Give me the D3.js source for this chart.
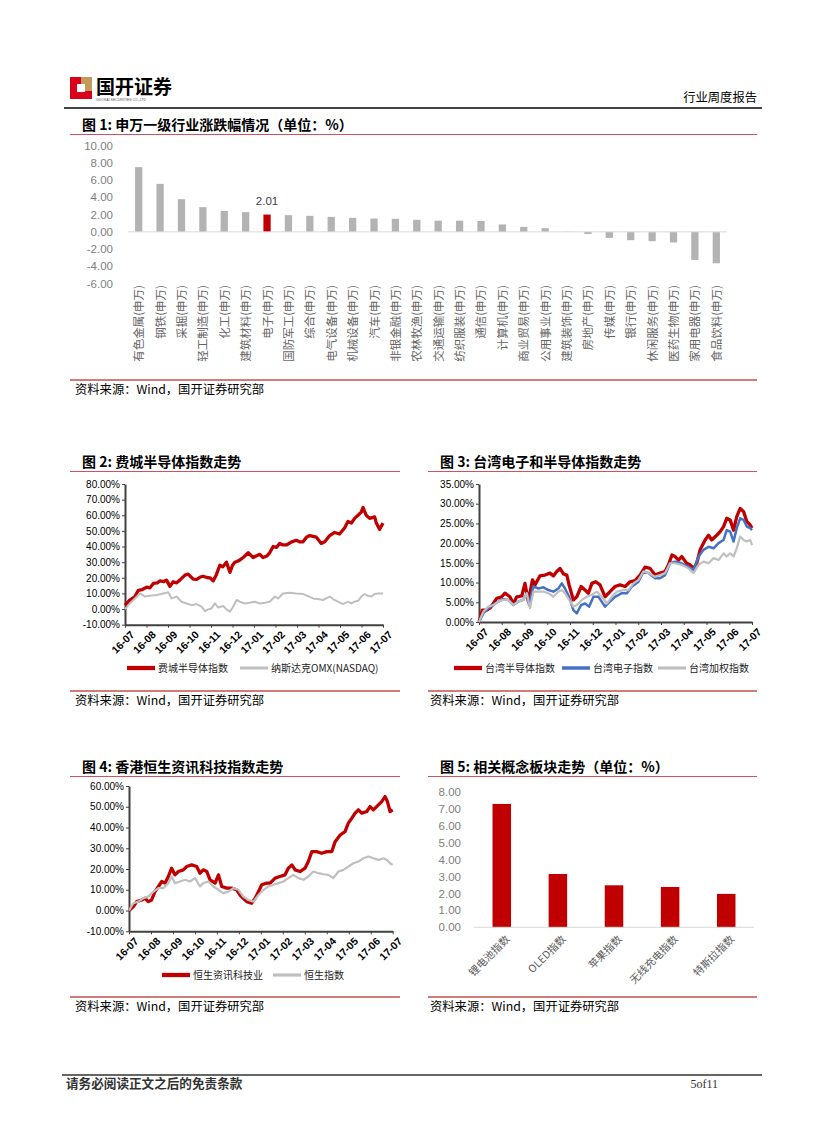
<!DOCTYPE html>
<html><head><meta charset="utf-8">
<script src="https://cdn.jsdelivr.net/npm/d3@7"></script>
<style>body{margin:0;background:#fff}svg{display:block}</style>
</head><body>
<svg id="page" width="827" height="1122"></svg>
<script>
// ---------------- DATA ----------------
const industryNames = ["有色金属","钢铁","采掘","轻工制造","化工","建筑材料","电子","国防军工","综合","电气设备","机械设备","汽车","非银金融","农林牧渔","交通运输","纺织服装","通信","计算机","商业贸易","公用事业","建筑装饰","房地产","传媒","银行","休闲服务","医药生物","家用电器","食品饮料"];
const industryChange = [7.52,5.58,3.80,2.87,2.44,2.29,2.01,1.94,1.86,1.74,1.63,1.55,1.51,1.40,1.30,1.30,1.27,0.86,0.58,0.43,0.02,-0.25,-0.70,-0.97,-1.08,-1.23,-3.26,-3.65];
const industryTicks = [10,8,6,4,2,0,-2,-4,-6];
const highlightIndustry = "电子";

const monthLabels = ["16-07","16-08","16-09","16-10","16-11","16-12","17-01","17-02","17-03","17-04","17-05","17-06","17-07"];

// Chart 2 (t = months since 2016-07, value %)
const soxNames = ["费城半导体指数","纳斯达克OMX(NASDAQ)"];
const soxIndex = [[0,2.5],[0.23,5.8],[0.46,8],[0.62,12],[0.8,12.5],[1.01,14],[1.15,13.5],[1.32,16.4],[1.5,16.8],[1.63,18],[1.8,17.6],[1.93,18.5],[2.09,14.5],[2.24,17.5],[2.4,16.8],[2.55,18.5],[2.79,21.7],[2.94,22.4],[3.17,19.2],[3.33,19],[3.5,20.5],[3.64,21],[3.8,20.2],[3.95,20],[4.1,18],[4.25,22],[4.41,28],[4.55,27],[4.72,30],[4.88,23.5],[5.0,28],[5.11,30],[5.3,31],[5.5,33],[5.73,36],[5.96,33],[6.1,34],[6.27,35],[6.42,33],[6.6,34],[6.73,36],[6.89,40],[7.05,39.5],[7.2,42],[7.35,41],[7.51,41],[7.75,43],[7.97,44],[8.12,43],[8.28,43],[8.44,46],[8.59,47],[8.75,46.5],[8.9,46],[9.13,42],[9.29,43],[9.52,47],[9.75,49],[9.98,48],[10.22,52],[10.37,56],[10.53,55],[10.68,58],[10.84,60],[10.99,62],[11.07,65],[11.22,60],[11.38,58],[11.61,59],[11.69,55],[11.84,51],[11.92,53],[12,55]];
const nasdaqIndex = [[0,0],[0.23,3.6],[0.46,6.8],[0.7,10],[0.93,8],[1.16,8.5],[1.47,9],[1.78,10],[2.01,10.7],[2.17,6.8],[2.4,8],[2.63,4.7],[2.86,3.6],[3.1,2.5],[3.33,3.2],[3.56,1.5],[3.72,-1.3],[3.87,-0.2],[4.02,0.4],[4.18,3.6],[4.33,1],[4.57,2],[4.72,-0.2],[4.88,-1.7],[5.03,1.5],[5.19,5.8],[5.34,4.7],[5.57,3.6],[5.8,4],[6.04,4.7],[6.27,3.6],[6.5,4],[6.73,4.7],[6.97,8],[7.12,6.8],[7.35,10],[7.66,10.5],[7.97,10],[8.28,9.6],[8.51,8.3],[8.75,6.8],[8.98,6.4],[9.21,5.8],[9.52,8],[9.67,6.4],[9.91,4.7],[10.14,3.2],[10.37,4.7],[10.53,3.6],[10.68,4.7],[10.84,5.3],[10.99,8],[11.15,9.6],[11.3,8.5],[11.46,8],[11.61,9.6],[11.76,10],[12,10]];

// Chart 3
const twNames = ["台湾半导体指数","台湾电子指数","台湾加权指数"];
const twSemi = [[0,0],[0.15,3],[0.34,3],[0.48,3.5],[0.63,4.7],[0.78,6],[1.0,6.4],[1.14,7.3],[1.36,6.4],[1.51,4.6],[1.66,6.4],[1.88,6.6],[2.02,9.8],[2.17,5.2],[2.35,10.7],[2.46,9.4],[2.68,11.7],[2.9,11.9],[3.12,12.4],[3.27,11.7],[3.42,12.8],[3.56,13.6],[3.71,12.2],[3.86,11.9],[3.96,9.4],[4.15,5.6],[4.3,6.4],[4.49,9],[4.66,8.1],[4.81,7.3],[4.96,9.8],[5.13,10.2],[5.32,9.4],[5.54,6.4],[5.76,7.7],[5.98,9],[6.2,9.4],[6.42,9],[6.64,10.2],[6.86,10.5],[7.08,11.9],[7.3,13.9],[7.52,13.6],[7.74,11.9],[7.96,12.4],[8.18,12.8],[8.33,14.5],[8.48,17],[8.62,16.6],[8.77,15.7],[8.91,16.6],[9.13,14.9],[9.28,14.5],[9.43,13.6],[9.57,14.9],[9.72,18.3],[9.94,20.8],[10.09,22],[10.23,20.8],[10.45,22],[10.6,22.9],[10.75,24.2],[10.89,26.3],[11.04,25.9],[11.19,23.3],[11.33,26.7],[11.48,28.8],[11.63,28],[11.77,25.5],[11.92,24.6],[12,23.8]];
const twElec = [[0,0],[0.19,2.2],[0.41,3.5],[0.63,4.3],[0.85,5.2],[1.07,5.8],[1.29,5.6],[1.51,4.3],[1.73,5.2],[1.95,5.6],[2.1,7.3],[2.2,4.3],[2.39,9],[2.61,8.5],[2.83,8.8],[3.05,8.1],[3.27,7.7],[3.49,8.5],[3.64,9.8],[3.78,8.5],[3.96,6.4],[4.15,3],[4.3,2.2],[4.49,4.3],[4.66,4.7],[4.84,3.9],[5.03,6.4],[5.25,6.4],[5.54,3.9],[5.76,5.2],[5.98,6.4],[6.28,7.3],[6.5,7.3],[6.72,9],[7.01,10.2],[7.23,12.8],[7.45,12.4],[7.74,11.1],[7.96,11.1],[8.18,11.9],[8.4,14.9],[8.62,15.3],[8.91,14.9],[9.21,14],[9.43,13.2],[9.65,16.6],[9.87,18.3],[10.09,19.1],[10.31,18.7],[10.53,20],[10.75,20.8],[10.89,23.3],[11.04,22.9],[11.19,20.4],[11.33,23.8],[11.48,26.3],[11.63,25.9],[11.77,24.2],[11.92,23.8],[12,23.3]];
const twTaiex = [[0,0],[0.19,2.6],[0.41,3.9],[0.63,4.3],[0.85,5.2],[1.07,5.6],[1.29,5.6],[1.51,4.3],[1.73,5.2],[1.95,5.6],[2.1,7.3],[2.24,3.5],[2.39,7.7],[2.61,7.7],[2.83,7.7],[3.05,7.3],[3.27,6.4],[3.49,7.7],[3.64,8.1],[3.78,7.3],[3.96,5.6],[4.15,3.9],[4.3,4.3],[4.52,5.6],[4.74,6.4],[4.96,6.9],[5.18,7.7],[5.4,6.4],[5.62,4.7],[5.84,6.4],[6.06,7.7],[6.35,8.1],[6.57,8.1],[6.79,9.8],[7.01,10.7],[7.23,12.8],[7.45,12.4],[7.74,11.5],[7.96,11.9],[8.18,12.4],[8.4,14.9],[8.62,14.9],[8.91,14.5],[9.21,13.6],[9.43,12.4],[9.65,14.5],[9.87,15.3],[10.09,14.9],[10.31,16.2],[10.53,15.7],[10.75,17.4],[10.89,16.6],[11.04,17.4],[11.19,16.6],[11.33,18.7],[11.48,21.7],[11.63,20.8],[11.77,20.4],[11.92,20.8],[12,19.5]];

// Chart 4
const hkNames = ["恒生资讯科技业","恒生指数"];
const hkTech = [[0,0],[0.2,1.9],[0.35,4.3],[0.58,5.1],[0.73,5.9],[0.88,4.3],[1.03,5.1],[1.18,9.1],[1.34,11.6],[1.49,14],[1.64,13.2],[1.79,16.4],[1.94,20.4],[2.09,17.2],[2.25,18.8],[2.47,19.6],[2.63,21.2],[2.85,22],[3.08,21.2],[3.23,18],[3.38,19.6],[3.54,18.8],[3.69,14.8],[3.92,13.2],[4.07,17.2],[4.22,11.6],[4.45,10.8],[4.67,10.8],[4.9,10],[5.05,7.5],[5.2,5.9],[5.36,4.3],[5.58,3.5],[5.74,5.9],[5.89,9.1],[6.04,12.4],[6.27,13.2],[6.42,13.2],[6.65,15.6],[6.87,16.4],[7.1,17.2],[7.25,20.4],[7.41,22],[7.56,19.6],[7.78,18.8],[8.01,20.4],[8.16,23.6],[8.32,28.4],[8.54,28.4],[8.77,27.6],[9.0,28.4],[9.23,28.4],[9.38,33.2],[9.61,36.4],[9.83,38],[9.98,42.1],[10.14,44.5],[10.29,46.9],[10.44,48.5],[10.59,46.9],[10.82,47.7],[10.97,50.1],[11.12,48.5],[11.35,50.9],[11.5,52.5],[11.65,54.9],[11.76,52.5],[11.88,47.7],[12,48.5]];
const hsIndex = [[0,0],[0.2,3.5],[0.42,4.3],[0.65,5.9],[0.88,6.7],[1.11,9.1],[1.34,10.8],[1.56,10.8],[1.79,13.2],[1.94,16.4],[2.09,13.2],[2.32,14],[2.55,14.8],[2.78,14],[3.0,15.6],[3.23,11.6],[3.38,13.2],[3.61,14],[3.84,11.6],[4.07,10],[4.29,8.3],[4.52,9.1],[4.75,10.8],[4.98,10],[5.2,6.7],[5.43,5.1],[5.66,4.3],[5.89,7.5],[6.12,10],[6.34,11.6],[6.57,12.4],[6.8,13.2],[7.03,14],[7.25,15.6],[7.48,17.2],[7.71,15.6],[7.94,14.8],[8.16,16.4],[8.39,18.8],[8.62,18],[8.85,17.5],[9.07,17.2],[9.3,15.6],[9.53,18.8],[9.76,19.6],[9.98,21.2],[10.21,22.8],[10.44,23.6],[10.67,25.2],[10.9,26],[11.12,25.2],[11.35,24.4],[11.58,25.2],[11.73,24.4],[11.88,22.8],[12,22]];

// Chart 5
const conceptNames = ["锂电池指数","OLED指数","苹果指数","无线充电指数","特斯拉指数"];
const conceptChange = [7.31,3.16,2.49,2.39,1.98];
const conceptTicks = [0,1,2,3,4,5,6,7,8];

// ---------------- DRAW ----------------
const svg = d3.select("#page");
const CJK = "'Noto Sans CJK SC', 'Noto Sans', sans-serif";
const ARIAL = "'Liberation Sans', Arial, sans-serif";
const RED = "#C00000", GRAY = "#BFBFBF", BLUE = "#4472C4", RULE = "#c0504d";

function hline(x1, x2, y, color, w) {
  svg.append("line").attr("x1", x1).attr("x2", x2).attr("y1", y).attr("y2", y)
    .attr("stroke", color).attr("stroke-width", w);
}
function text(x, y, str, opts = {}) {
  return svg.append("text").attr("x", x).attr("y", y).text(str)
    .attr("font-family", opts.family || CJK).attr("font-size", opts.size || 12)
    .attr("font-weight", opts.weight || 400).attr("fill", opts.fill || "#000")
    .attr("text-anchor", opts.anchor || "start");
}

// header
svg.append("rect").attr("x", 70).attr("y", 77).attr("width", 22).attr("height", 22).attr("fill", "#d9001b");
svg.append("rect").attr("x", 81).attr("y", 77).attr("width", 11).attr("height", 14).attr("fill", "#c49a5a");
svg.append("rect").attr("x", 77).attr("y", 84).attr("width", 8).attr("height", 8).attr("fill", "#fff");
text(96, 94, "国开证券", { size: 19, weight: 700 });
text(96, 101, "GUOKAI SECURITIES CO.,LTD", { size: 3.5, family: ARIAL, fill: "#555" });
text(757, 102, "行业周度报告", { size: 12.3, anchor: "end" });
hline(64, 762, 108, "#444", 2);

// titles and source lines
function titleBlock(x, y, lineX1, lineX2, str) {
  text(x, y, str, { size: 14, weight: 700 });
  hline(lineX1, lineX2, y + 4.5, "#d2525c", 1);
}
function sourceBlock(x, lineY, lineX1, lineX2) {
  hline(lineX1, lineX2, lineY, RULE, 1.5);
  text(x, lineY + 14, "资料来源：Wind，国开证券研究部", { size: 12.3 });
}

// ---- Chart 1 ----
titleBlock(82, 130, 70, 757, "图 1:  申万一级行业涨跌幅情况（单位：%）");
{
  const x = d3.scaleBand().domain(industryNames).range([128, 727]).paddingInner(0.66).paddingOuter(0.33);
  const y = d3.scaleLinear().domain([-6, 10]).range([283.5, 145.8]);
  const g = svg.append("g");
  industryTicks.forEach(t => {
    text(113, y(t) + 4, t.toFixed(2), { size: 11.5, family: ARIAL, fill: "#808080", anchor: "end" });
  });
  g.selectAll("rect").data(industryNames).enter().append("rect")
    .attr("x", d => x(d)).attr("width", x.bandwidth())
    .attr("y", (d, i) => y(Math.max(0, industryChange[i])))
    .attr("height", (d, i) => Math.abs(y(industryChange[i]) - y(0)))
    .attr("fill", d => d === highlightIndustry ? RED : "#B3B3B3");
  hline(128, 727, y(0), "#d9d9d9", 1);
  const hi = industryNames.indexOf(highlightIndustry);
  text(x(highlightIndustry) + x.bandwidth() / 2, y(industryChange[hi]) - 10, industryChange[hi].toFixed(2),
    { size: 11.5, family: ARIAL, fill: "#404040", anchor: "middle" });
  industryNames.forEach(n => {
    const cx = x(n) + x.bandwidth() / 2;
    svg.append("text").attr("transform", `translate(${cx + 4.5},285) rotate(-90)`)
      .attr("text-anchor", "end").attr("font-family", CJK).attr("font-size", 11.5)
      .attr("fill", "#666").text(n + "(申万)");
  });
}
sourceBlock(75, 380, 70, 757);

// ---- generic line chart ----
function lineChart(cfg) {
  const x = d3.scaleLinear().domain([0, 12]).range([cfg.x0, cfg.x1]);
  const y = d3.scaleLinear().domain(cfg.yDomain).range([cfg.yBottom, cfg.yTop]);
  const g = svg.append("g");
  const ya = g.append("g").attr("transform", `translate(${cfg.x0},0)`)
    .call(d3.axisLeft(y).tickValues(cfg.yTicks).tickFormat(d => d.toFixed(2) + "%").tickSize(3).tickSizeOuter(0));
  const xa = g.append("g").attr("transform", `translate(0,${cfg.yBottom})`)
    .call(d3.axisBottom(x).tickValues(d3.range(13)).tickFormat((d, i) => monthLabels[i]).tickSize(3).tickSizeOuter(0));
  [ya, xa].forEach(a => {
    a.select(".domain").attr("stroke", "#404040").attr("stroke-width", 2);
    a.selectAll(".tick line").attr("stroke", "#404040").attr("stroke-width", 1);
    a.selectAll("text").attr("font-family", ARIAL).attr("font-size", 10).attr("fill", "#000");
  });
  ya.selectAll("text").attr("x", -5);
  xa.selectAll("text").attr("x", 0).attr("y", 0).attr("dy", "0.35em").attr("font-size", 10.5)
    .attr("transform", "translate(7,8) rotate(-45)").style("text-anchor", "end").attr("font-weight", 700);
  const line = d3.line().x(d => x(d[0])).y(d => y(d[1])).curve(d3.curveLinear);
  cfg.series.forEach(s => {
    g.append("path").datum(s.data).attr("d", line).attr("fill", "none")
      .attr("stroke", s.color).attr("stroke-width", s.width).attr("stroke-linejoin", "round");
  });
  cfg.series.forEach((s, i) => {
    const lx = cfg.legendX[i];
    svg.append("line").attr("x1", lx).attr("x2", lx + 28).attr("y1", cfg.legendY).attr("y2", cfg.legendY)
      .attr("stroke", s.color).attr("stroke-width", s.width + 1);
    text(lx + 31, cfg.legendY + 3.5, s.name, { size: 10, fill: "#222" });
  });
}

// ---- Chart 2 ----
titleBlock(82, 467, 70, 400, "图 2:  费城半导体指数走势");
lineChart({
  x0: 125, x1: 383, yTop: 484, yBottom: 624.7, yDomain: [-10, 80],
  yTicks: d3.range(-10, 81, 10),
  series: [
    { name: soxNames[0], data: soxIndex, color: RED, width: 3.3 },
    { name: soxNames[1], data: nasdaqIndex, color: GRAY, width: 2 }
  ],
  legendX: [127, 240], legendY: 668
});
sourceBlock(75, 691, 70, 400);

// ---- Chart 3 ----
titleBlock(440, 467, 428, 757, "图 3:  台湾电子和半导体指数走势");
lineChart({
  x0: 479, x1: 752, yTop: 484, yBottom: 622, yDomain: [0, 35],
  yTicks: d3.range(0, 36, 5),
  series: [
    { name: twNames[0], data: twSemi, color: RED, width: 3.3 },
    { name: twNames[1], data: twElec, color: BLUE, width: 2.5 },
    { name: twNames[2], data: twTaiex, color: GRAY, width: 2.2 }
  ],
  legendX: [454, 562, 658], legendY: 668
});
sourceBlock(430, 691, 428, 757);

// ---- Chart 4 ----
titleBlock(82, 772, 70, 400, "图 4:  香港恒生资讯科技指数走势");
lineChart({
  x0: 129, x1: 392.7, yTop: 786, yBottom: 931.3, yDomain: [-10, 60],
  yTicks: d3.range(-10, 61, 10),
  series: [
    { name: hkNames[0], data: hkTech, color: RED, width: 3.3 },
    { name: hkNames[1], data: hsIndex, color: GRAY, width: 2.2 }
  ],
  legendX: [162, 273], legendY: 975
});
sourceBlock(75, 997, 70, 400);

// ---- Chart 5 ----
titleBlock(440, 772, 428, 757, "图 5:  相关概念板块走势（单位：%）");
{
  const x = d3.scaleBand().domain(conceptNames).range([474, 754]).paddingInner(0.67).paddingOuter(0.33);
  const y = d3.scaleLinear().domain([0, 8]).range([927.3, 792.3]);
  conceptTicks.forEach(t => {
    text(461, y(t) + 4, t.toFixed(2), { size: 11.5, family: ARIAL, fill: "#808080", anchor: "end" });
  });
  svg.append("g").selectAll("rect").data(conceptNames).enter().append("rect")
    .attr("x", d => x(d)).attr("width", x.bandwidth())
    .attr("y", (d, i) => y(conceptChange[i]))
    .attr("height", (d, i) => y(0) - y(conceptChange[i]))
    .attr("fill", RED);
  hline(474, 754, y(0), "#d9d9d9", 1);
  conceptNames.forEach(n => {
    const cx = x(n) + x.bandwidth() / 2;
    svg.append("text").attr("transform", `translate(${cx + 6},${y(0) + 10}) rotate(-45)`)
      .attr("text-anchor", "end").attr("dy", "0.35em").attr("font-family", CJK).attr("font-size", 10.5)
      .attr("fill", "#595959").text(n);
  });
}
sourceBlock(430, 997, 428, 757);

// footer
hline(62, 762, 1075, "#333", 1.5);
text(66, 1088, "请务必阅读正文之后的免责条款", { size: 12.6, weight: 700, fill: "#333" });
text(718, 1088, "5of11", { size: 12, family: "'Liberation Serif', serif", anchor: "end", fill: "#333" });
</script>
</body></html>
